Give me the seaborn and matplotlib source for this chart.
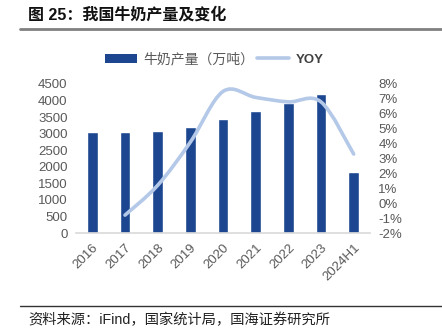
import numpy as np
import pandas as pd
import matplotlib
matplotlib.use("Agg")
import matplotlib.pyplot as plt
from matplotlib.lines import Line2D
from matplotlib.patches import Patch, PathPatch
from matplotlib.path import Path
import seaborn as sns

categories = ["2016", "2017", "2018", "2019", "2020", "2021", "2022", "2023", "2024H1"]
production = [3064, 3039, 3075, 3201, 3440, 3683, 3932, 4197, 1838]
yoy_categories = ["2017", "2018", "2019", "2020", "2021", "2022", "2023", "2024H1"]
yoy = [-0.8, 1.2, 4.1, 7.5, 7.1, 6.8, 6.8, 3.3]
left_ticks = [0, 500, 1000, 1500, 2000, 2500, 3000, 3500, 4000, 4500]
right_ticks = [-2, -1, 0, 1, 2, 3, 4, 5, 6, 7, 8]

title = "图 25：我国牛奶产量及变化"
source = "资料来源：iFind，国家统计局，国海证券研究所"
bar_label = "牛奶产量（万吨）"
line_label = "YOY"

sns.set_theme(style="white")
plt.rcParams["font.family"] = ["Liberation Sans", "Noto Sans CJK SC", "DejaVu Sans"]

bar_color = "#1c4690"
line_color = "#b4c8e8"
tick_color = "#595959"
fs = 9.5

fig = plt.figure(figsize=(4.42, 3.35), dpi=100)
ax = fig.add_axes([76 / 442, (335 - 233) / 335, (370 - 76) / 442, (233 - 84) / 335])

df = pd.DataFrame({"cat": categories, "prod": production})
sns.barplot(data=df, x="cat", y="prod", ax=ax, color=bar_color, saturation=1, width=0.32)
ax.set_xlim(-0.5, len(categories) - 0.5)
ax.set_ylim(0, 4500)
ax.set_yticks(left_ticks)
ax.set_xlabel("")
ax.set_ylabel("")

ax2 = ax.twinx()
pos = {c: i for i, c in enumerate(categories)}
ldf = pd.DataFrame({"x": [pos[c] for c in yoy_categories], "y": yoy})
sns.lineplot(data=ldf, x="x", y="y", ax=ax2, color=line_color, linewidth=2.6)

# render the seaborn line as a smoothed (Excel-style) curve through the same points
line = ax2.lines[0]
pts = np.asarray(line.get_xydata(), dtype=float)
line.remove()
verts = [tuple(pts[0])]
codes = [Path.MOVETO]
n = len(pts)
for i in range(n - 1):
    p0 = pts[i - 1] if i > 0 else pts[i]
    p1 = pts[i]
    p2 = pts[i + 1]
    p3 = pts[i + 2] if i + 2 < n else pts[i + 1]
    c1 = p1 + (p2 - p0) / 6.0
    c2 = p2 - (p3 - p1) / 6.0
    verts += [tuple(c1), tuple(c2), tuple(p2)]
    codes += [Path.CURVE4] * 3
ax2.add_patch(PathPatch(Path(verts, codes), facecolor="none", edgecolor=line_color,
                        linewidth=2.6, capstyle="round", joinstyle="round"))

ax2.set_ylim(-2, 8)
ax2.set_yticks(right_ticks)
ax2.set_yticklabels([f"{t}%" for t in right_ticks])
ax2.set_xlim(-0.5, len(categories) - 0.5)
ax2.set_xlabel("")
ax2.set_ylabel("")

for a in (ax, ax2):
    for s in a.spines.values():
        s.set_visible(False)
    a.tick_params(length=0, labelsize=fs, labelcolor=tick_color)
    a.grid(False)
ax.spines["bottom"].set_visible(True)
ax.spines["bottom"].set_color("#d9d9d9")
ax.spines["bottom"].set_linewidth(1.2)
ax.set_xticks(range(len(categories)))
ax.set_xticklabels(categories, rotation=45, ha="right", rotation_mode="anchor")
ax.tick_params(axis="x", pad=6)
ax.tick_params(axis="y", pad=6)
ax2.tick_params(axis="y", pad=6)

# legend
handles = [Patch(facecolor=bar_color, edgecolor="none"),
           Line2D([0], [0], color=line_color, linewidth=2.6)]
fig.legend(handles, [bar_label, line_label], loc="center", bbox_to_anchor=(214 / 442, 1 - 59 / 335),
           ncol=2, frameon=False, handlelength=2.3, handleheight=0.6,
           columnspacing=0.25, handletextpad=0.45, labelcolor=tick_color,
           prop={"family": ["Noto Sans CJK SC", "DejaVu Sans"], "size": 10})
leg = fig.legends[0]
for t in leg.get_texts():
    if t.get_text() == "YOY":
        t.set_fontweight("bold")
        t.set_family(["Liberation Sans", "DejaVu Sans"])
        t.set_fontsize(9.5)
        t.set_color("#404040")

# title and rules
fig.text(28 / 442, 1 - 15 / 335, title, fontsize=11.5, fontweight="bold", va="center", ha="left",
         family=["Liberation Sans", "Noto Sans CJK SC", "DejaVu Sans"], color="#111111")
fig.add_artist(Line2D([20 / 442, 1.0], [1 - 29 / 335, 1 - 29 / 335], color="#808080", linewidth=2.0))
fig.add_artist(Line2D([20 / 442, 1.0], [1 - 305.5 / 335, 1 - 305.5 / 335], color="#333333", linewidth=1.0))
fig.text(28 / 442, 1 - 320 / 335, source, fontsize=10.3, va="center", ha="left",
         family=["Liberation Sans", "Noto Sans CJK SC", "DejaVu Sans"], color="#222222")

fig.savefig("out.png", dpi=100)
